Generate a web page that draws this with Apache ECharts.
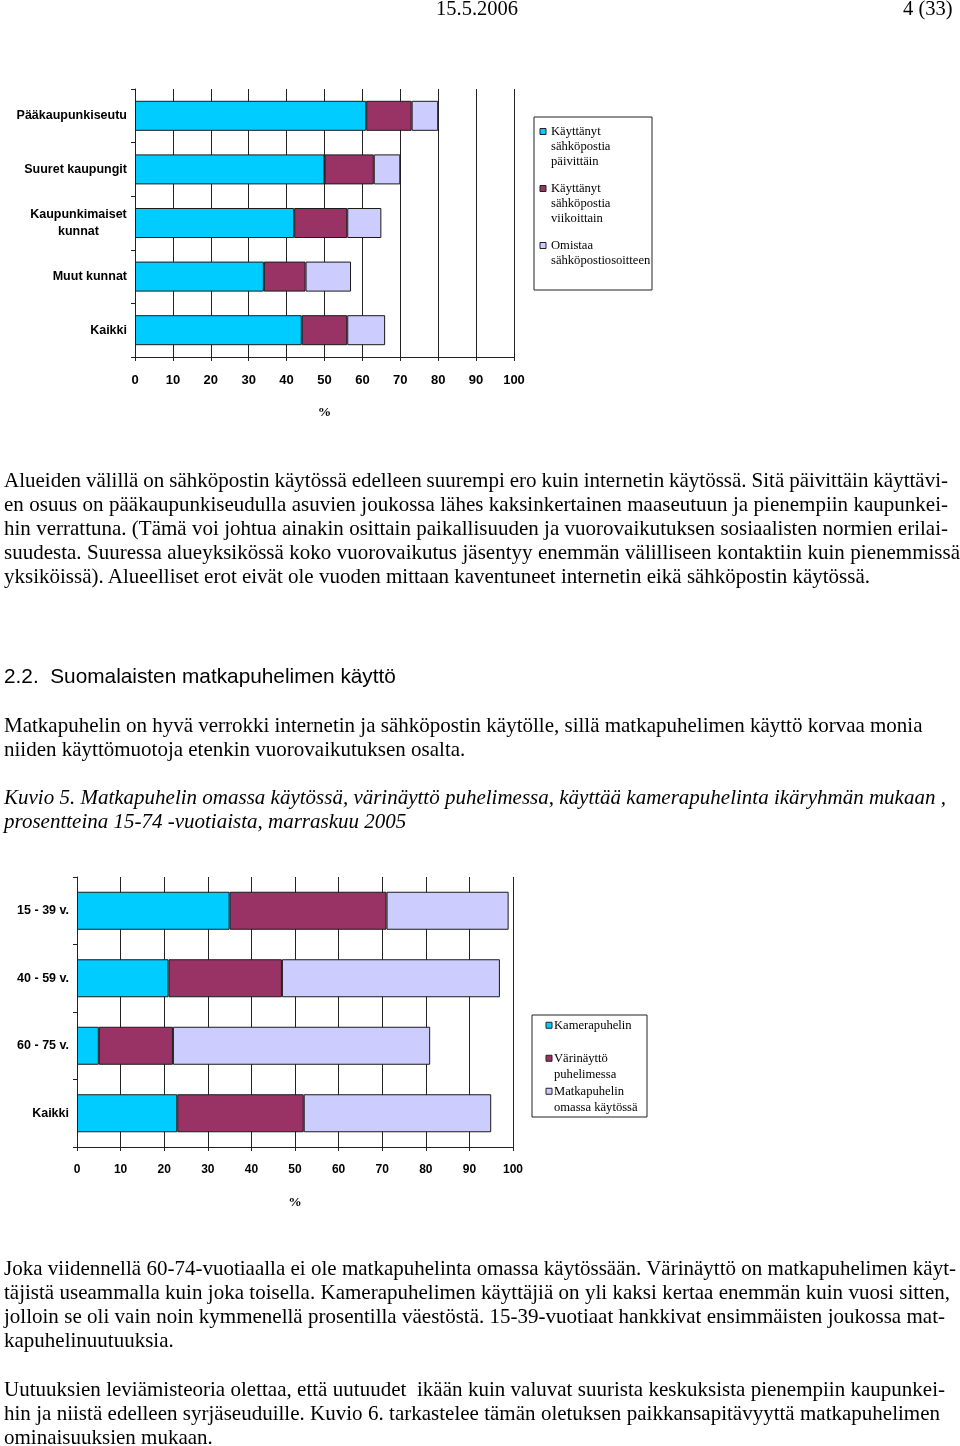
<!DOCTYPE html>
<html>
<head>
<meta charset="utf-8">
<script src="https://cdn.jsdelivr.net/npm/echarts@6/dist/echarts.min.js"></script>
<style>
  html, body { margin: 0; padding: 0; background: #fff; }
  body { width: 960px; height: 1446px; position: relative; overflow: hidden; font-family: "Liberation Serif", "Times New Roman", serif; color: #000; }
  #chart { position: absolute; left: 0; top: 0; width: 960px; height: 1446px; }
  .ln { position: absolute; white-space: pre; font-size: 21px; line-height: 24px; }
  .hd { font-size: 20.5px; }
  .it { font-style: italic; }
  .h { font-family: "Liberation Sans", Arial, sans-serif; font-size: 20.8px; }
</style>
</head>
<body>
<div id="chart"></div>
<div id="txt"></div>
<script>
// ---------- data: chart 1 (sähköposti alueittain) ----------
const regions = ['Pääkaupunkiseutu', 'Suuret kaupungit', 'Kaupunkimaiset\nkunnat', 'Muut kunnat', 'Kaikki'];
const emailSeriesNames = ['Käyttänyt sähköpostia päivittäin', 'Käyttänyt sähköpostia viikoittain', 'Omistaa sähköpostiosoitteen'];
const emailLegendLines = [['Käyttänyt', 'sähköpostia', 'päivittäin'], ['Käyttänyt', 'sähköpostia', 'viikoittain'], ['Omistaa', 'sähköpostiosoitteen']];
const emailDaily  = [61, 50, 42, 34, 44];
const emailWeekly = [12, 13, 14, 11, 12];
const emailOwns   = [7, 7, 9, 12, 10];

// ---------- data: chart 2 (matkapuhelin ikäryhmittäin) ----------
const ageGroups = ['15 - 39 v.', '40 - 59 v.', '60 - 75 v.', 'Kaikki'];
const phoneSeriesNames = ['Kamerapuhelin', 'Värinäyttö puhelimessa', 'Matkapuhelin omassa käytössä'];
const phoneLegendLines = [['Kamerapuhelin'], ['Värinäyttö', 'puhelimessa'], ['Matkapuhelin', 'omassa käytössä']];
const phoneCamera = [35, 21, 5, 23];
const phoneColor  = [36, 26, 17, 29];
const phoneOwn    = [28, 50, 59, 43];

const xTicks = ['0','10','20','30','40','50','60','70','80','90','100'];
const colors = ['#00CCFF', '#993366', '#CCCCFF'];

// ---------- text ----------
const textLines = [
  // [text, top, left, target width (justify) or null, class]
  ['15.5.2006', -4, 436, null, 'hd'],
  ['4 (33)', -4, 903, null, 'hd'],
  ['Alueiden välillä on sähköpostin käytössä edelleen suurempi ero kuin internetin käytössä. Sitä päivittäin käyttävi-', 468, 4, 944, ''],
  ['en osuus on pääkaupunkiseudulla asuvien joukossa lähes kaksinkertainen maaseutuun ja pienempiin kaupunkei-', 492, 4, 944, ''],
  ['hin verrattuna. (Tämä voi johtua ainakin osittain paikallisuuden ja vuorovaikutuksen sosiaalisten normien erilai-', 516, 4, 944, ''],
  ['suudesta. Suuressa alueyksikössä koko vuorovaikutus jäsentyy enemmän välilliseen kontaktiin kuin pienemmissä', 540, 4, 956, ''],
  ['yksiköissä). Alueelliset erot eivät ole vuoden mittaan kaventuneet internetin eikä sähköpostin käytössä.', 564, 4, null, ''],
  ['2.2.  Suomalaisten matkapuhelimen käyttö', 664, 4, null, 'h'],
  ['Matkapuhelin on hyvä verrokki internetin ja sähköpostin käytölle, sillä matkapuhelimen käyttö korvaa monia', 713, 4, null, ''],
  ['niiden käyttömuotoja etenkin vuorovaikutuksen osalta.', 737, 4, null, ''],
  ['Kuvio 5. Matkapuhelin omassa käytössä, värinäyttö puhelimessa, käyttää kamerapuhelinta ikäryhmän mukaan ,', 785, 4, null, 'it'],
  ['prosentteina 15-74 -vuotiaista, marraskuu 2005', 809, 4, null, 'it'],
  ['Joka viidennellä 60-74-vuotiaalla ei ole matkapuhelinta omassa käytössään. Värinäyttö on matkapuhelimen käyt-', 1256, 4, 952, ''],
  ['täjistä useammalla kuin joka toisella. Kamerapuhelimen käyttäjiä on yli kaksi kertaa enemmän kuin vuosi sitten,', 1280, 4, 946, ''],
  ['jolloin se oli vain noin kymmenellä prosentilla väestöstä. 15-39-vuotiaat hankkivat ensimmäisten joukossa mat-', 1304, 4, 941, ''],
  ['kapuhelinuutuuksia.', 1328, 4, null, ''],
  ['Uutuuksien leviämisteoria olettaa, että uutuudet  ikään kuin valuvat suurista keskuksista pienempiin kaupunkei-', 1377, 4, 941, ''],
  ['hin ja niistä edelleen syrjäseuduille. Kuvio 6. tarkastelee tämän oletuksen paikkansapitävyyttä matkapuhelimen', 1401, 4, 936, ''],
  ['ominaisuuksien mukaan.', 1425, 4, null, '']
];

const txt = document.getElementById('txt');
textLines.forEach(function (l) {
  const d = document.createElement('div');
  d.className = 'ln' + (l[4] ? ' ' + l[4] : '');
  d.style.top = l[1] + 'px';
  d.style.left = l[2] + 'px';
  d.textContent = l[0];
  txt.appendChild(d);
  if (l[3]) {
    const natural = d.getBoundingClientRect().width;
    const spaces = (l[0].match(/ /g) || []).length;
    if (spaces > 0) d.style.wordSpacing = ((l[3] - natural) / spaces) + 'px';
  }
});

// ---------- chart ----------
const sans = '"Liberation Sans", Arial, sans-serif';
const serif = '"Liberation Serif", "Times New Roman", serif';
const lineCol = '#222';

function xAxisFor(gi, fs, gap) {
  return {
    gridIndex: gi, type: 'value', min: 0, max: 100, interval: 10,
    axisLine: { show: true, lineStyle: { color: lineCol, width: 1 } },
    axisTick: { show: true, length: 4, lineStyle: { color: lineCol } },
    splitLine: { show: true, lineStyle: { color: lineCol, width: 1 } },
    axisLabel: { color: '#000', fontFamily: sans, fontWeight: 'bold', fontSize: fs, margin: 17,
      formatter: function (v) { return xTicks[Math.round(v / 10)]; } },
    name: '%', nameLocation: 'middle', nameGap: gap,
    nameTextStyle: { color: '#000', fontFamily: serif, fontWeight: 'bold', fontSize: 13.5 }
  };
}
function yAxisFor(gi, cats) {
  return {
    gridIndex: gi, type: 'category', data: cats, inverse: true,
    axisLine: { show: true, lineStyle: { color: lineCol, width: 1 } },
    axisTick: { show: true, length: 4, lineStyle: { color: lineCol } },
    splitLine: { show: false },
    axisLabel: {
      color: '#000', fontFamily: sans, fontWeight: 'bold', fontSize: 12.5, margin: 8,
      formatter: function (v) {
        return v.indexOf('\n') >= 0 ? v.split('\n').map(function (s) { return '{m|' + s + '}'; }).join('\n') : v;
      },
      rich: { m: { align: 'center', width: 97, fontFamily: sans, fontWeight: 'bold', fontSize: 12.5, lineHeight: 17, color: '#000' } }
    }
  };
}
function barSeries(name, data, idx, gi, bw) {
  return {
    name: name, type: 'bar', stack: 's' + gi, xAxisIndex: gi, yAxisIndex: gi,
    data: data, barWidth: bw, itemStyle: { color: colors[idx], borderColor: '#1a1a1a', borderWidth: 1 },
    emphasis: { disabled: true }, animation: false
  };
}
function legendGraphic(x, y, w, h, linesList, sqX, txX, lineH, itemTops) {
  const children = [{ type: 'rect', shape: { x: x, y: y, width: w, height: h }, style: { fill: '#fff', stroke: '#222', lineWidth: 1 } }];
  linesList.forEach(function (lines, i) {
    const t = itemTops[i];
    children.push({ type: 'rect', shape: { x: sqX, y: t + lineH / 2 - 3, width: 6, height: 6 }, style: { fill: colors[i], stroke: '#222', lineWidth: 1 } });
    children.push({ type: 'text', x: txX, y: t, style: { text: lines.join('\n'), font: '12.6px ' + serif, fill: '#000', lineHeight: lineH, verticalAlign: 'top', align: 'left' } });
  });
  return children;
}

const chart = echarts.init(document.getElementById('chart'), null, { renderer: 'canvas', width: 960, height: 1446 });
chart.setOption({
  animation: false,
  backgroundColor: '#fff',
  grid: [
    { left: 135, top: 89, width: 379, height: 268 },
    { left: 77, top: 877, width: 436, height: 270 }
  ],
  xAxis: [xAxisFor(0, 13, 49), xAxisFor(1, 12, 49)],
  yAxis: [yAxisFor(0, regions), yAxisFor(1, ageGroups)],
  series: [
    barSeries(emailSeriesNames[0], emailDaily, 0, 0, 30),
    barSeries(emailSeriesNames[1], emailWeekly, 1, 0, 30),
    barSeries(emailSeriesNames[2], emailOwns, 2, 0, 30),
    barSeries(phoneSeriesNames[0], phoneCamera, 0, 1, 38),
    barSeries(phoneSeriesNames[1], phoneColor, 1, 1, 38),
    barSeries(phoneSeriesNames[2], phoneOwn, 2, 1, 38)
  ],
  graphic: [
    { type: 'group', children: legendGraphic(534, 117, 118, 173, emailLegendLines, 540, 551, 15, [124, 181, 238]) },
    { type: 'group', children: legendGraphic(532, 1015, 115, 102, phoneLegendLines, 546, 554, 16.5, [1017, 1050, 1083]) }
  ]
});
</script>
</body>
</html>
